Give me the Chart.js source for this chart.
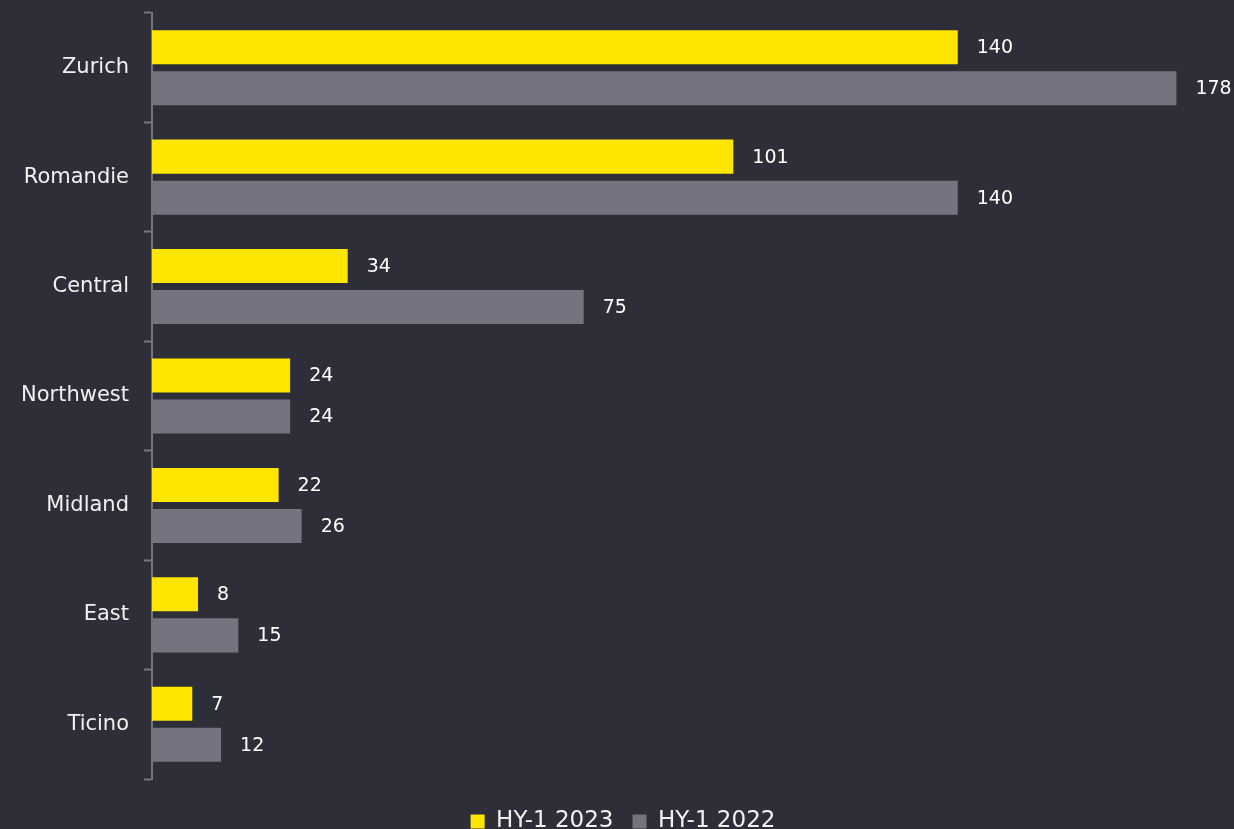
<!DOCTYPE html>
<html>
<head>
<meta charset="utf-8">
<script src="https://cdn.jsdelivr.net/npm/chart.js@4.4.0/dist/chart.umd.min.js"></script>
<style>
  html, body { margin: 0; padding: 0; background: #2e2e38; overflow: hidden; }
  #wrap { width: 1234px; height: 843px; }
</style>
</head>
<body>
<div id="wrap"><canvas id="myChart"></canvas></div>
<script>
var regions = ['Zurich', 'Romandie', 'Central', 'Northwest', 'Midland', 'East', 'Ticino'];
var hy2023 = [140, 101, 34, 24, 22, 8, 7];
var hy2022 = [178, 140, 75, 24, 26, 15, 12];

var yellow = '#ffe600';
var grey = '#747480';

// numbers to the right of each bar
var valueLabels = {
  id: 'valueLabels',
  afterDatasetsDraw: function(chart) {
    var ctx = chart.ctx;
    ctx.save();
    ctx.font = '19px "DejaVu Sans"';
    ctx.fillStyle = '#ffffff';
    ctx.textAlign = 'left';
    ctx.textBaseline = 'middle';
    chart.data.datasets.forEach(function(ds, i) {
      chart.getDatasetMeta(i).data.forEach(function(bar, j) {
        ctx.fillText(ds.data[j], bar.x + 19, bar.y + 1);
      });
    });
    ctx.restore();
  }
};

var ctx = document.getElementById('myChart');
var myChart = new Chart(ctx, {
  type: 'bar',
  data: {
    labels: regions,
    datasets: [
      {
        label: 'HY-1 2023',
        data: hy2023,
        backgroundColor: yellow,
        borderWidth: 0,
        barPercentage: 0.83,
        categoryPercentage: 0.75
      },
      {
        label: 'HY-1 2022',
        data: hy2022,
        backgroundColor: grey,
        borderWidth: 0,
        barPercentage: 0.83,
        categoryPercentage: 0.75
      }
    ]
  },
  options: {
    indexAxis: 'y',
    responsive: true,
    maintainAspectRatio: false,
    animation: false,
    layout: { padding: { top: 13, right: 0, left: 12, bottom: 0 } },
    scales: {
      x: {
        min: 0,
        max: 188,
        grid: { display: false },
        border: { display: false },
        ticks: { display: false },
        afterFit: function(scale) { scale.height = 12; }
      },
      y: {
        grid: {
          display: true,
          drawOnChartArea: false,
          drawTicks: true,
          tickLength: 8,
          tickWidth: 2,
          color: grey
        },
        border: { display: true, color: grey, width: 2 },
        ticks: {
          color: '#f0f0f0',
          padding: 15,
          font: { family: '"DejaVu Sans"', size: 21 }
        },
        afterFit: function(scale) {
          scale.width = 140;
          scale.paddingTop = 0;
          scale.paddingBottom = 0;
        }
      }
    },
    plugins: {
      legend: {
        position: 'bottom',
        labels: {
          color: '#f0f0f0',
          boxWidth: 14,
          boxHeight: 14,
          padding: 19,
          font: { family: '"DejaVu Sans"', size: 23 }
        }
      },
      tooltip: { enabled: false }
    }
  },
  plugins: [valueLabels]
});
</script>
</body>
</html>
